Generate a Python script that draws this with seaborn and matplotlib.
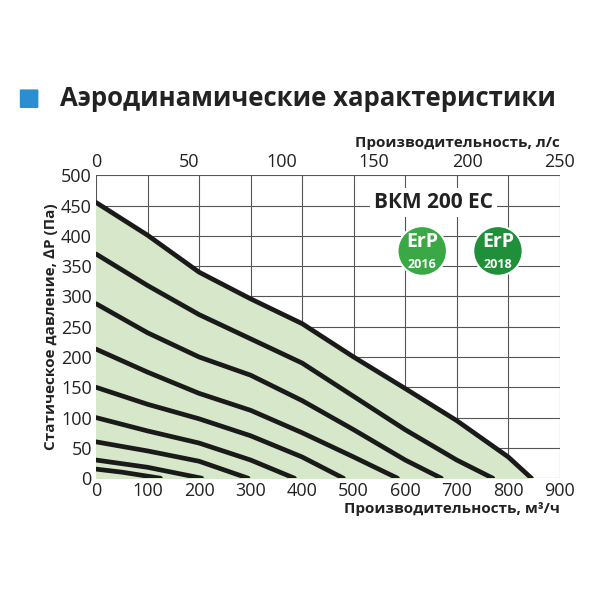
import numpy as np
import matplotlib.pyplot as plt
import seaborn as sns
import pandas as pd
from matplotlib.patches import Ellipse, FancyBboxPatch

# Curves: flow (m3/h) and static pressure (Pa)
curve_x = [
    [0, 100, 200, 300, 400, 500, 600, 700, 800, 845],
    [0, 100, 200, 300, 400, 500, 600, 700, 770],
    [0, 100, 200, 300, 400, 500, 600, 670],
    [0, 100, 200, 300, 400, 500, 585],
    [0, 100, 200, 300, 400, 480],
    [0, 100, 200, 300, 385],
    [0, 100, 200, 295],
    [0, 100, 205],
    [0, 50, 125],
]
curve_y = [
    [455, 401, 340, 296, 255, 200, 148, 95, 35, 0],
    [370, 318, 270, 230, 190, 135, 80, 30, 0],
    [288, 240, 200, 170, 128, 80, 30, 0],
    [213, 175, 140, 112, 75, 35, 0],
    [150, 122, 98, 70, 35, 0],
    [100, 78, 58, 30, 0],
    [60, 45, 28, 0],
    [30, 18, 0],
    [15, 10, 0],
]
model = "ВКМ 200 ЕС"

sns.set_style("white")
plt.rcParams['font.family'] = ['Open Sans', 'DejaVu Sans']

fig = plt.figure(figsize=(6, 6), dpi=100)
ax = fig.add_axes([0.16, 0.203, 0.773, 0.505])

rows = []
for i, (xs, ys) in enumerate(zip(curve_x, curve_y)):
    for x, y in zip(xs, ys):
        rows.append({"curve": i, "flow": x, "dp": y})
df = pd.DataFrame(rows)

ax.fill_between(curve_x[0], curve_y[0], 0, color="#d6e8c9", zorder=1)
sns.lineplot(data=df, x="flow", y="dp", hue="curve", palette=["#1a1a1a"] * 9,
             linewidth=3.4, legend=False, ax=ax, zorder=3, sort=False,
             solid_capstyle="round", solid_joinstyle="round")

ax.set_xlim(0, 900)
ax.set_ylim(0, 500)
ax.set_xticks(range(0, 901, 100))
ax.set_yticks(range(0, 501, 50))
ax.grid(True, color="#555555", linewidth=0.8, zorder=0)
ax.set_axisbelow(True)
for s in ax.spines.values():
    s.set_visible(False)
ax.tick_params(length=0, labelsize=13, colors="#222222", pad=3)
ax.set_xlabel("Производительность, м³/ч", fontsize=11, fontweight="bold",
              color="#222222", labelpad=1, loc="right")
ax.set_ylabel("Статическое давление, ∆P (Па)", fontsize=11, fontweight="bold",
              color="#222222", labelpad=2)

ax2 = ax.twiny()
ax2.set_xlim(0, 250)
ax2.set_xticks(range(0, 251, 50))
for s in ax2.spines.values():
    s.set_visible(False)
ax2.tick_params(length=0, labelsize=13, colors="#222222", pad=3)
ax2.set_xlabel("Производительность, л/с", fontsize=11, fontweight="bold",
               color="#222222", labelpad=4, loc="right")

# model label
ax.text(655, 455, model, fontsize=15, fontweight="bold", color="#222222",
        ha="center", va="center", zorder=5,
        bbox=dict(facecolor="white", edgecolor="none", pad=3))
# ErP badges
for cx, year, col in [(633, "2016", "#3aa845"), (780, "2018", "#1f8f3a")]:
    ax.add_patch(Ellipse((cx, 375), 96, 82, facecolor=col, edgecolor="white",
                         linewidth=1.5, zorder=5))
    ax.text(cx, 390, "ErP", fontsize=14, fontweight="bold", color="white",
            ha="center", va="center", zorder=6)
    ax.text(cx, 352, year, fontsize=9, fontweight="bold", color="white",
            ha="center", va="center", zorder=6)

# title with icon
fig.patches.append(FancyBboxPatch((0.035, 0.822), 0.027, 0.027, boxstyle="round,pad=0.002",
                                  transform=fig.transFigure, facecolor="#2a8fd0",
                                  edgecolor="none"))
fig.text(0.1, 0.835, "Аэродинамические характеристики", fontsize=18.5,
         fontweight="bold", color="#222222", va="center")

fig.savefig("out.png", dpi=100, facecolor="white")
